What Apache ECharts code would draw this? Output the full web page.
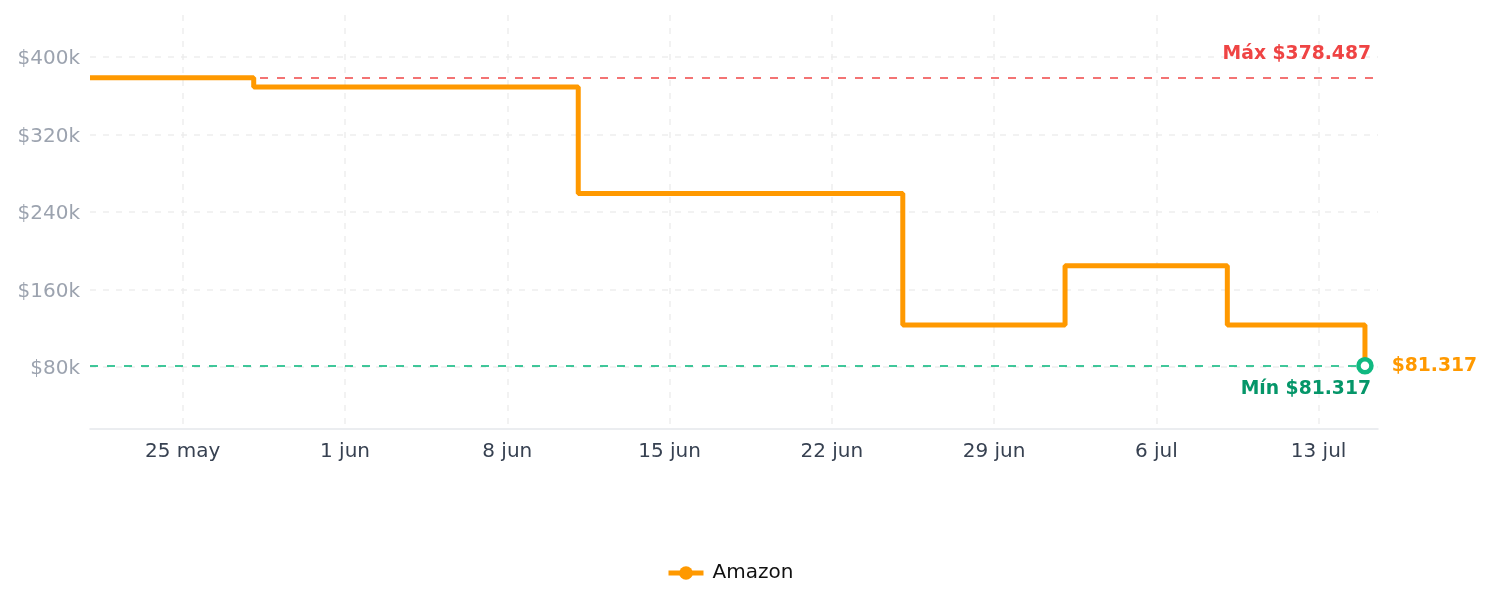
<!DOCTYPE html>
<html>
<head>
<meta charset="utf-8">
<script src="https://cdn.jsdelivr.net/npm/echarts@6/dist/echarts.min.js"></script>
<style>
html,body{margin:0;padding:0;background:#fff;}
#chart{width:1492px;height:607px;}
</style>
</head>
<body>
<div id="chart"></div>
<script>
// ---- data ----
const seriesName = 'Amazon';
const dates = ['2025-05-21', '2025-05-28T01:30', '2025-06-11T01:30', '2025-06-25T01:30', '2025-07-02T01:30', '2025-07-09T01:30', '2025-07-15'];
const prices = [378487, 369000, 259200, 123400, 184500, 123400, 81317];
const tickDates = ['2025-05-25', '2025-06-01', '2025-06-08', '2025-06-15', '2025-06-22', '2025-06-29', '2025-07-06', '2025-07-13'];
const tickLabels = ['25 may', '1 jun', '8 jun', '15 jun', '22 jun', '29 jun', '6 jul', '13 jul'];
const yTicks = [80000, 160000, 240000, 320000, 400000];
const yTickLabels = ['$80k', '$160k', '$240k', '$320k', '$400k'];
const maxLabel = 'Máx $378.487';
const minLabel = 'Mín $81.317';
const lastLabel = '$81.317';

function ts(s) {
  const p = s.split('T');
  const d = p[0].split('-').map(Number);
  let h = 0, m = 0;
  if (p[1]) { const t = p[1].split(':').map(Number); h = t[0]; m = t[1] || 0; }
  return Date.UTC(d[0], d[1] - 1, d[2], h, m);
}
const xs = dates.map(ts);
const tickTs = tickDates.map(ts);
const labelMap = {};
tickTs.forEach((t, i) => { labelMap[t] = tickLabels[i]; });
const yLabelMap = {};
yTicks.forEach((v, i) => { yLabelMap[v] = yTickLabels[i]; });

const seriesData = xs.map((x, i) => [x, prices[i]]);
const maxVal = Math.max.apply(null, prices);
const minVal = Math.min.apply(null, prices);
const lastPoint = seriesData[seriesData.length - 1];

const ORANGE = '#ff9900';
const FONT = 'DejaVu Sans';

const chart = echarts.init(document.getElementById('chart'), null, { renderer: 'canvas' });
chart.setOption({
  animation: false,
  textStyle: { fontFamily: FONT },
  grid: { left: 90, right: 114, top: 15, bottom: 178, containLabel: false },
  legend: {
    data: [seriesName],
    top: 558,
    left: 661,
    itemWidth: 35,
    itemHeight: 17,
    itemGap: 10,
    lineStyle: { width: 5 },
    textStyle: { fontFamily: FONT, fontSize: 20, color: '#111', padding: [0, 0, 0, 4] }
  },
  xAxis: {
    type: 'value',
    min: ts('2025-05-21'),
    max: ts('2025-07-15T13:30'),
    axisLine: { show: true, lineStyle: { color: '#e5e7eb', width: 1.5 } },
    axisTick: { show: false, customValues: tickTs },
    axisLabel: {
      customValues: tickTs,
      formatter: v => labelMap[v] || '',
      color: '#374151',
      fontSize: 20,
      fontFamily: FONT,
      margin: 13
    },
    splitLine: { show: true, lineStyle: { color: '#eeeeee', width: 1.5, type: [6, 7] } }
  },
  yAxis: {
    type: 'value',
    min: 16000,
    max: 443350,
    axisLine: { show: false },
    axisTick: { show: false, customValues: yTicks },
    axisLabel: {
      customValues: yTicks,
      formatter: v => yLabelMap[v] || '',
      color: '#9ca3af',
      fontSize: 20,
      fontFamily: FONT,
      margin: 10,
      verticalAlign: 'top',
      lineHeight: 4
    },
    splitLine: { show: true, lineStyle: { color: '#eeeeee', width: 1.5, type: [6, 7] } }
  },
  series: [{
    name: seriesName,
    type: 'line',
    step: 'end',
    z: 3,
    data: seriesData,
    symbol: 'circle',
    symbolSize: 10,
    showSymbol: false,
    color: ORANGE,
    lineStyle: { color: ORANGE, width: 5 },
    itemStyle: { color: ORANGE },
    markLine: {
      silent: true,
      z: 1,
      symbol: ['none', 'none'],
      data: [
        {
          yAxis: maxVal,
          lineStyle: { color: 'rgba(239,68,68,0.75)', width: 2, type: [8, 9] },
          label: {
            show: true, position: 'insideEndTop', formatter: maxLabel,
            color: '#ef4444', fontWeight: 'bold', fontSize: 18.75, fontFamily: FONT,
            distance: [7, 14]
          }
        },
        {
          yAxis: minVal,
          lineStyle: { color: 'rgba(16,185,129,0.8)', width: 2, type: [8, 9] },
          label: {
            show: true, position: 'insideEndBottom', formatter: minLabel,
            color: '#059669', fontWeight: 'bold', fontSize: 18.75, fontFamily: FONT,
            distance: [7, 14]
          }
        }
      ]
    },
    markPoint: {
      silent: true,
      z: 6,
      symbol: 'circle',
      symbolSize: 13,
      data: [{
        coord: lastPoint,
        itemStyle: { color: '#ffffff', borderColor: '#10b981', borderWidth: 4.5 },
        label: {
          show: true, position: 'right', distance: 18, formatter: lastLabel,
          color: ORANGE, fontWeight: 'bold', fontSize: 18.75, fontFamily: FONT
        }
      }]
    }
  }]
});
</script>
</body>
</html>
